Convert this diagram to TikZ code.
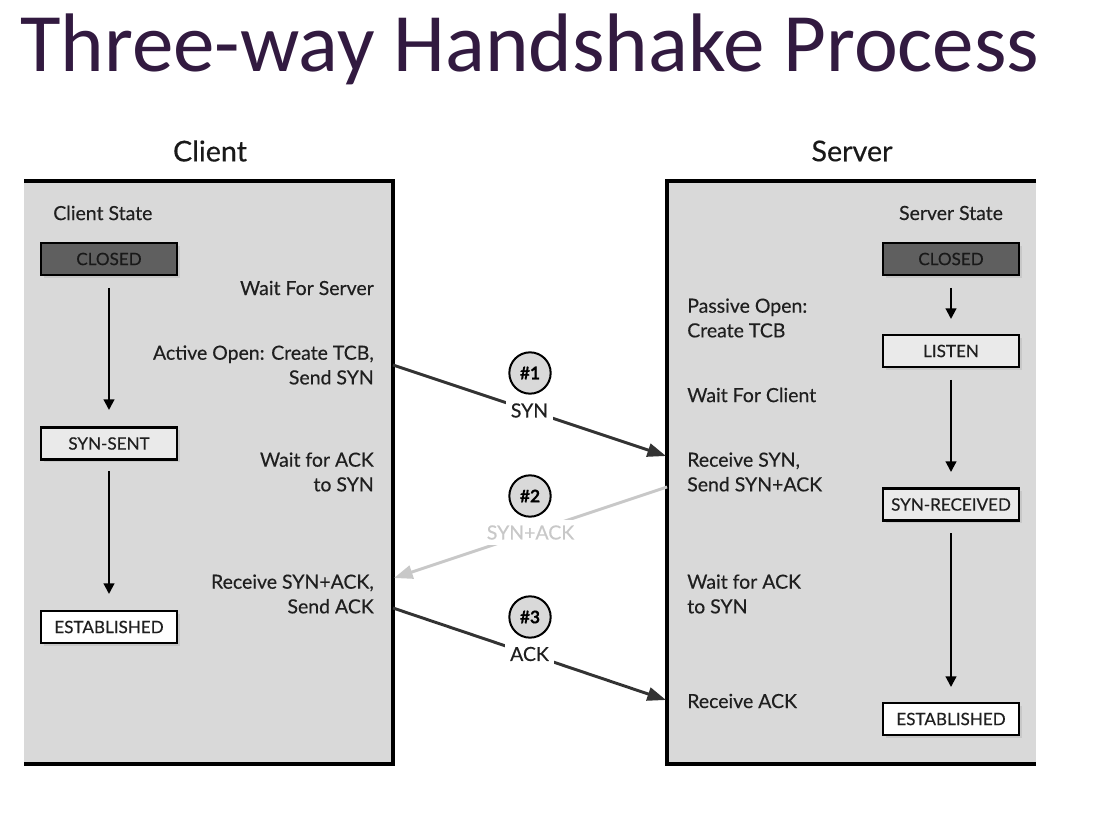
\documentclass[tikz,border=0pt]{standalone}
\usepackage{fontspec}
\setmainfont{Lato}[FakeBold=0.35,BoldFont={Lato Bold}]
\newfontfamily\titlefont{Carlito}
\usetikzlibrary{arrows.meta,shadows}
\definecolor{panelgray}{HTML}{D9D9D9}
\definecolor{closedgray}{HTML}{5F5F5F}
\definecolor{lightbox}{HTML}{EAEAEA}
\definecolor{msgdark}{HTML}{333333}
\definecolor{msglight}{HTML}{C8C8C8}
\definecolor{titlecol}{HTML}{321A40}
\begin{document}
\begin{tikzpicture}[x=0.75pt,y=-0.75pt,
  panelfill/.style={fill=panelgray,draw=none},
  frame/.style={line width=3pt,black},
  state/.style={draw=black,line width=1.8pt,minimum width=102pt,minimum height=24pt,inner sep=0pt,
    font=\fontsize{12.8}{14}\selectfont,text=black!88,drop shadow={opacity=0.18,shadow xshift=2pt,shadow yshift=-2pt}},
  closedstate/.style={state,fill=closedgray,text=black!90},
  midstate/.style={state,fill=lightbox},
  endstate/.style={state,fill=white},
  statearrow/.style={line width=1.6pt,-{Triangle[length=8pt,width=8pt]}},
  note/.style={font=\fontsize{14.6}{18.5}\selectfont,inner sep=0pt,text=black!88},
  heading/.style={font=\fontsize{21.5}{24}\selectfont,inner sep=0pt,text=black!90},
  msg/.style={line width=2.2pt,color=msgdark,-{Triangle[length=14pt,width=10pt]}},
  msglabel/.style={fill=white,inner sep=4pt,font=\fontsize{14.6}{16}\selectfont,text=black!88},
  stepnum/.style={circle,draw=black,line width=1.5pt,fill=panelgray,minimum size=31pt,inner sep=0pt,
    font=\bfseries\fontsize{13}{15}\selectfont}
]
\useasboundingbox (0,0) rectangle (1106,823);
% title
\node[anchor=base west,inner sep=0pt,text=titlecol,font=\titlefont\fontsize{62.3}{66}\selectfont] (title) at (20,72) {Three-way Handshake Process};
% headings
\node[heading] (clienthead) at (210,151) {Client};
\node[heading] (serverhead) at (852,151) {Server};
% panels
\fill[panelfill] (24,181) rectangle (393,764);
\fill[panelfill] (667,181) rectangle (1036,764);
\draw[frame] (24,181) -- (393,181) -- (393,764) -- (24,764);
\draw[frame] (1036,181) -- (667,181) -- (667,764) -- (1036,764);
% client states
\node[note,anchor=west] (clientstate) at (53,213) {Client State};
\node[closedstate] (cclosed) at (109,259) {CLOSED};
\node[midstate] (csynsent) at (109,443.5) {SYN-SENT};
\node[endstate] (cest) at (109,627) {ESTABLISHED};
\coordinate (ca1s) at (109,288);
\coordinate (ca1e) at (109,410);
\coordinate (ca2s) at (109,471);
\coordinate (ca2e) at (109,594);
\draw[statearrow] (ca1s) -- (ca1e);
\draw[statearrow] (ca2s) -- (ca2e);
% client notes
\node[note,anchor=east] (cwait) at (374,288) {Wait For Server};
\node[note,anchor=east,align=right] (cactive) at (374,365) {Active Open: Create TCB,\\Send SYN};
\node[note,anchor=east,align=right] (cwaitack) at (374,472) {Wait for ACK\\to SYN};
\node[note,anchor=east,align=right] (crecv) at (374,594) {Receive SYN+ACK,\\Send ACK};
% server states
\node[note] (serverstate) at (951,213) {Server State};
\node[closedstate] (sclosed) at (951,259) {CLOSED};
\node[midstate] (slisten) at (951,351) {LISTEN};
\node[midstate] (ssynrec) at (951,504.5) {SYN-RECEIVED};
\node[endstate] (sest) at (951,719) {ESTABLISHED};
\coordinate (sa1s) at (951,288);
\coordinate (sa1e) at (951,319);
\coordinate (sa2s) at (951,380);
\coordinate (sa2e) at (951,472);
\coordinate (sa3s) at (951,533);
\coordinate (sa3e) at (951,687);
\draw[statearrow] (sa1s) -- (sa1e);
\draw[statearrow] (sa2s) -- (sa2e);
\draw[statearrow] (sa3s) -- (sa3e);
% server notes
\node[note,anchor=west,align=left] (spassive) at (687,318) {Passive Open:\\Create TCB};
\node[note,anchor=west] (swait) at (687,395) {Wait For Client};
\node[note,anchor=west,align=left] (srecv) at (687,472) {Receive SYN,\\Send SYN+ACK};
\node[note,anchor=west,align=left] (swaitack) at (687,594) {Wait for ACK\\to SYN};
\node[note,anchor=west] (srecvack) at (687,701) {Receive ACK};
% messages
\coordinate (m1s) at (393,365);
\coordinate (m1e) at (666,456);
\coordinate (m2s) at (667,487);
\coordinate (m2e) at (394,578);
\coordinate (m3s) at (393,608);
\coordinate (m3e) at (666,700);
\node[stepnum] (n1) at (530,373) {\#1};
\node[stepnum] (n2) at (530,496) {\#2};
\node[stepnum] (n3) at (530,617) {\#3};
\draw[msg] (m1s) -- node[msglabel] (l1) {SYN} (m1e);
\draw[msg,color=msglight] (m2s) -- node[msglabel,text=msglight] (l2) {SYN+ACK} (m2e);
\draw[msg] (m3s) -- node[msglabel] (l3) {ACK} (m3e);
\end{tikzpicture}
\end{document}
